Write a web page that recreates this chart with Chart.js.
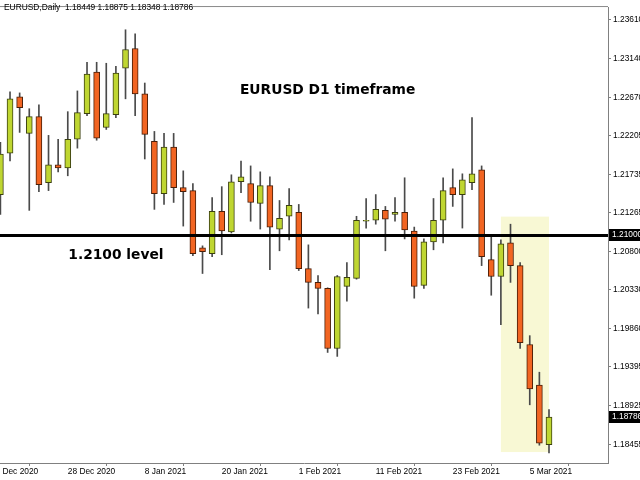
<!DOCTYPE html>
<html>
<head>
<meta charset="utf-8">
<title>EURUSD D1</title>
<script src="https://cdn.jsdelivr.net/npm/chart.js@4.4.1/dist/chart.umd.min.js"></script>
<style>
  html, body { margin: 0; padding: 0; background: #fff; }
  canvas { display: block; }
</style>
</head>
<body>
<canvas id="chart" width="640" height="480"></canvas>
<script>
// EURUSD daily candles, 16 Dec 2020 .. 9 Mar 2021
const symbol = 'EURUSD';
const dates = [
  '16 Dec 2020', '17 Dec 2020', '18 Dec 2020', '21 Dec 2020', '22 Dec 2020', '23 Dec 2020', '24 Dec 2020',
  '28 Dec 2020', '29 Dec 2020', '30 Dec 2020', '31 Dec 2020',
  '4 Jan 2021', '5 Jan 2021', '6 Jan 2021', '7 Jan 2021', '8 Jan 2021', '11 Jan 2021', '12 Jan 2021',
  '13 Jan 2021', '14 Jan 2021', '15 Jan 2021', '18 Jan 2021', '19 Jan 2021', '20 Jan 2021', '21 Jan 2021',
  '22 Jan 2021', '25 Jan 2021', '26 Jan 2021', '27 Jan 2021', '28 Jan 2021', '29 Jan 2021',
  '1 Feb 2021', '2 Feb 2021', '3 Feb 2021', '4 Feb 2021', '5 Feb 2021', '8 Feb 2021', '9 Feb 2021',
  '10 Feb 2021', '11 Feb 2021', '12 Feb 2021', '15 Feb 2021', '16 Feb 2021', '17 Feb 2021', '18 Feb 2021',
  '19 Feb 2021', '22 Feb 2021', '23 Feb 2021', '24 Feb 2021', '25 Feb 2021', '26 Feb 2021',
  '1 Mar 2021', '2 Mar 2021', '3 Mar 2021', '4 Mar 2021', '5 Mar 2021', '8 Mar 2021', '9 Mar 2021'
];
const opens = [
  1.21488, 1.21992, 1.22675, 1.22231, 1.22435, 1.21632, 1.21848, 1.21812, 1.22160, 1.22471,
  1.22975, 1.22303, 1.22459, 1.23023, 1.23262, 1.22711, 1.22136, 1.21500, 1.22064, 1.21572,
  1.21536, 1.20841, 1.20769, 1.21284, 1.21033, 1.21644, 1.21620, 1.21380, 1.21596, 1.21069,
  1.21224, 1.21272, 1.20589, 1.20421, 1.20349, 1.19618, 1.20373, 1.20469, 1.21164, 1.21176,
  1.21296, 1.21248, 1.21272, 1.21045, 1.20385, 1.20913, 1.21176, 1.21572, 1.21488, 1.21632,
  1.21788, 1.20697, 1.20493, 1.20901, 1.20625, 1.19666, 1.19174, 1.18449
];
const highs = [
  1.22124, 1.22735, 1.22723, 1.22531, 1.22579, 1.22207, 1.22160, 1.22495, 1.22747, 1.23095,
  1.23095, 1.23083, 1.23047, 1.23490, 1.23442, 1.22843, 1.22255, 1.22231, 1.22231, 1.21776,
  1.21620, 1.20865, 1.21452, 1.21584, 1.21728, 1.21896, 1.21836, 1.21764, 1.21704, 1.21416,
  1.21560, 1.21368, 1.20877, 1.20505, 1.20355, 1.20505, 1.20661, 1.21224, 1.21440, 1.21488,
  1.21344, 1.21452, 1.21692, 1.21093, 1.20949, 1.21440, 1.21692, 1.21800, 1.21740, 1.22423,
  1.21836, 1.20997, 1.20937, 1.21128, 1.20661, 1.19774, 1.19330, 1.18875
];
const lows = [
  1.21248, 1.21896, 1.22243, 1.21296, 1.21524, 1.21536, 1.21764, 1.21716, 1.22052, 1.22447,
  1.22148, 1.22279, 1.22423, 1.22651, 1.22447, 1.21920, 1.21308, 1.21368, 1.21392, 1.21105,
  1.20745, 1.20529, 1.20733, 1.20757, 1.21021, 1.21512, 1.21164, 1.21069, 1.20577, 1.20805,
  1.20937, 1.20565, 1.20109, 1.20037, 1.19570, 1.19522, 1.20193, 1.20460, 1.21081, 1.21128,
  1.20805, 1.21164, 1.20949, 1.20229, 1.20349, 1.20817, 1.20901, 1.21344, 1.21081, 1.21548,
  1.20625, 1.20265, 1.19906, 1.20421, 1.19618, 1.18934, 1.18443, 1.18348
];
const closes = [
  1.21980, 1.22651, 1.22543, 1.22435, 1.21608, 1.21848, 1.21812, 1.22160, 1.22483, 1.22951,
  1.22172, 1.22471, 1.22963, 1.23250, 1.22711, 1.22219, 1.21500, 1.22064, 1.21572, 1.21524,
  1.20769, 1.20793, 1.21284, 1.21045, 1.21644, 1.21704, 1.21392, 1.21596, 1.21093, 1.21200,
  1.21356, 1.20589, 1.20421, 1.20349, 1.19618, 1.20493, 1.20481, 1.21176, 1.21176, 1.21308,
  1.21188, 1.21272, 1.21057, 1.20373, 1.20913, 1.21176, 1.21536, 1.21488, 1.21668, 1.21740,
  1.20733, 1.20493, 1.20889, 1.20625, 1.19690, 1.19126, 1.18467, 1.18786
];

// axis ticks as MT4 shows them
const yTicks = [1.23610, 1.23140, 1.22670, 1.22205, 1.21735, 1.21265, 1.20800, 1.20330, 1.19860, 1.19395, 1.18925, 1.18455];
const xTickPos = [-1, 7, 15, 23, 31, 39, 47, 55];
const xTickLabels = ['15 Dec 2020', '28 Dec 2020', '8 Jan 2021', '20 Jan 2021', '1 Feb 2021', '11 Feb 2021', '23 Feb 2021', '5 Mar 2021'];

// annotations (in bar index / price units)
const levelPrice = 1.21;
const zoneBars = [52, 57];
const zonePrices = [1.2122, 1.1836];

const upColor = '#BFD631';
const downColor = '#F26522';
const mainFont = '"Liberation Sans", Arial, sans-serif';

const idx = dates.map((d, i) => i);
const bodies = idx.map(i => ({ x: i, y: [opens[i], closes[i]] }));
const wicks = idx.map(i => ({ x: i, y: [lows[i], highs[i]] }));
const isUp = idx.map(i => closes[i] >= opens[i]);
const bodyColors = isUp.map(u => u ? upColor : downColor);
const edgeColors = isUp.map(u => u ? '#3b4010' : '#4a1e08');

const last = closes.length - 1;
const header = `${symbol},Daily  ${opens[last].toFixed(5)} ${highs[last].toFixed(5)} ${lows[last].toFixed(5)} ${closes[last].toFixed(5)}`;

function priceBox(ctx, area, py, text) {
  ctx.fillStyle = '#000';
  ctx.fillRect(area.right + 1, Math.round(py) - 6, 40, 12);
  ctx.fillStyle = '#fff';
  ctx.textAlign = 'left';
  ctx.textBaseline = 'middle';
  ctx.fillText(text, area.right + 4, Math.round(py));
}

const overlay = {
  id: 'overlay',
  beforeDatasetsDraw(chart) {
    const { ctx, scales: { x, y } } = chart;
    const x0 = x.getPixelForValue(zoneBars[0]), x1 = x.getPixelForValue(zoneBars[1]);
    const y0 = y.getPixelForValue(zonePrices[0]), y1 = y.getPixelForValue(zonePrices[1]);
    ctx.save();
    ctx.fillStyle = '#F8F8D4';
    ctx.fillRect(x0, y0, x1 - x0, y1 - y0);
    ctx.restore();
  },
  afterDatasetsDraw(chart) {
    const { ctx, chartArea: a, scales: { x, y } } = chart;
    ctx.save();
    // top frame line
    ctx.fillStyle = '#8a8a8a';
    ctx.fillRect(a.left, a.top - 1, a.right - a.left, 1);

    // 1.2100 level
    const ly = Math.round(y.getPixelForValue(levelPrice));
    ctx.fillStyle = '#000';
    ctx.fillRect(a.left, ly - 1, a.right - a.left, 3);

    ctx.font = 'bold 13.8px "DejaVu Sans", Verdana, sans-serif';
    ctx.textAlign = 'center';
    ctx.textBaseline = 'middle';
    ctx.fillText('EURUSD D1 timeframe', x.getPixelForValue(34), y.getPixelForValue(1.22756));
    ctx.fillText('1.2100 level', x.getPixelForValue(12), y.getPixelForValue(1.20754));

    ctx.font = '8.4px ' + mainFont;
    ctx.textAlign = 'left';
    ctx.fillText(header, 4, 8);
    ctx.restore();
  },
  afterDraw(chart) {
    const { ctx, chartArea: a, scales: { y } } = chart;
    ctx.save();
    ctx.font = '8.4px ' + mainFont;
    priceBox(ctx, a, y.getPixelForValue(levelPrice), levelPrice.toFixed(5));
    priceBox(ctx, a, y.getPixelForValue(closes[last]), closes[last].toFixed(5));
    ctx.restore();
  }
};

new Chart(document.getElementById('chart'), {
  type: 'bar',
  data: {
    datasets: [
      {
        label: 'body',
        data: bodies,
        backgroundColor: bodyColors,
        borderColor: edgeColors,
        borderWidth: 1,
        borderSkipped: false,
        barThickness: 6,
        grouped: false
      },
      {
        label: 'wick',
        data: wicks,
        backgroundColor: '#4a4a4a',
        borderWidth: 0,
        barThickness: 1,
        grouped: false
      }
    ]
  },
  options: {
    responsive: false,
    animation: false,
    devicePixelRatio: 1,
    layout: { padding: { top: 1, left: 0, right: 0, bottom: 0 } },
    plugins: { legend: { display: false }, tooltip: { enabled: false } },
    scales: {
      x: {
        type: 'linear',
        offset: false,
        min: -0.0416,
        max: 63.13,
        afterBuildTicks: s => { s.ticks = xTickPos.map(v => ({ value: v })); },
        afterFit: s => { s.height = 17; s.paddingLeft = 0; s.paddingRight = 0; },
        grid: { drawOnChartArea: false, tickLength: 3, color: '#808080' },
        border: { display: true, color: '#808080' },
        ticks: {
          autoSkip: false,
          maxRotation: 0,
          minRotation: 0,
          align: 'start',
          padding: 1,
          color: '#000',
          font: { family: mainFont, size: 8.4 },
          callback: (v, i) => xTickLabels[i]
        }
      },
      y: {
        type: 'linear',
        position: 'right',
        min: 1.18227,
        max: 1.23766,
        afterBuildTicks: s => { s.ticks = yTicks.map(v => ({ value: v })); },
        afterFit: s => { s.width = 32; },
        grid: { drawOnChartArea: false, tickLength: 3, color: '#808080' },
        border: { display: true, color: '#808080' },
        ticks: {
          padding: 2,
          color: '#000',
          font: { family: mainFont, size: 8.4 },
          callback: v => v.toFixed(5)
        }
      }
    }
  },
  plugins: [overlay]
});
</script>
</body>
</html>
